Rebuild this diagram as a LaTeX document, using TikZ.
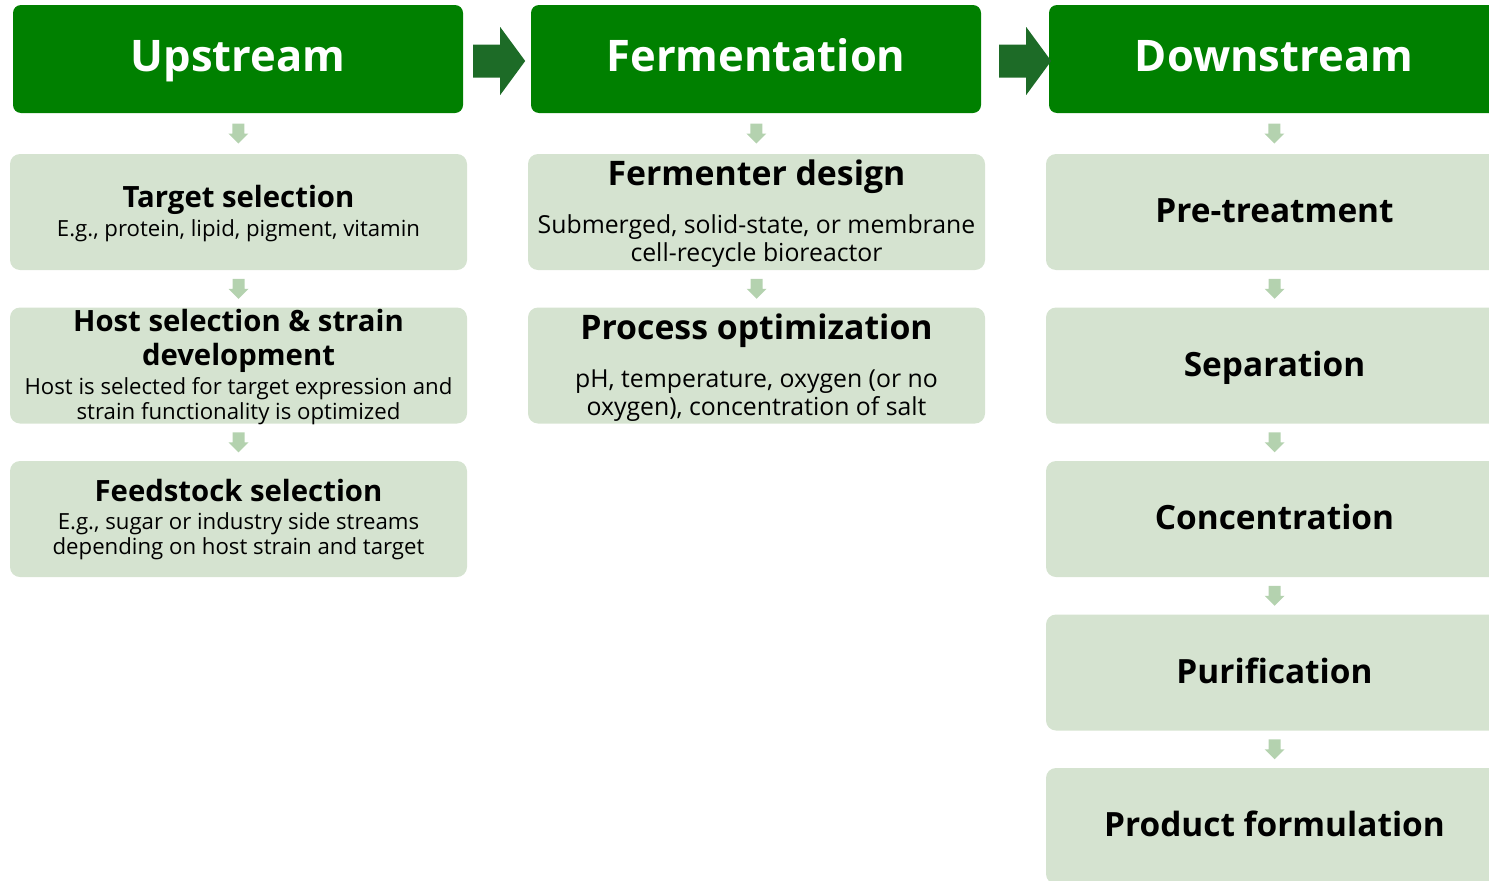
\documentclass[tikz,border=0pt]{standalone}
\usepackage{fontspec}
\setmainfont{Open Sans}
\usetikzlibrary{calc}
\definecolor{hgreen}{HTML}{008000}
\definecolor{agreen}{HTML}{1D6B27}
\definecolor{bgreen}{HTML}{D5E3D0}
\definecolor{sgreen}{HTML}{B4D2AF}
\tikzset{
  hbox/.style={fill=hgreen, rounded corners=8pt, minimum width=450pt, minimum height=108pt, inner sep=0pt},
  cbox/.style={fill=bgreen, rounded corners=10pt, minimum width=457pt, minimum height=116pt, inner sep=0pt},
  htext/.style={text=white, font=\fontsize{43.5}{48}\selectfont\bfseries, anchor=base, inner sep=0pt},
  ttext/.style={text=black, font=\fontsize{29.3}{34}\selectfont\bfseries, anchor=base, inner sep=0pt, align=center},
  tbig/.style={text=black, font=\fontsize{33.8}{36}\selectfont\bfseries, anchor=base, inner sep=0pt, align=center},
  dtext/.style={text=black, font=\fontsize{33.4}{36}\selectfont\bfseries, anchor=base, inner sep=0pt},
  stext/.style={text=black, font=\fontsize{22.2}{26}\selectfont, anchor=base, inner sep=0pt, align=center},
  sbig/.style={text=black, font=\fontsize{24.8}{28}\selectfont, anchor=base, inner sep=0pt, align=center},
  sarrow/.style={fill=sgreen},
  harrow/.style={fill=agreen},
}
\newcommand\downarr[2]{%
  \fill[sarrow] ($(#1.south)!0.5!(#2.north)$) ++(-6,-10) -- ++(12,0) -- ++(0,10) -- ++(4,0) -- ++(-10,10) -- ++(-10,-10) -- ++(4,0) -- cycle;}
\newcommand\headarr[3]{%
  \fill[harrow] ($(#1.east)+(#3,2)$) ++(0,-16.5) -- ++(27,0) -- ++(0,-17.5) -- ++(25,34) -- ++(-25,34) -- ++(0,-17.5) -- ++(-27,0) -- cycle;}
\begin{document}
\begin{tikzpicture}[x=1pt,y=-1pt]
\useasboundingbox (0,0) rectangle (1489,881);
\clip (0,0) rectangle (1489,881);
% headers
\node[hbox] (h1) at (238,59) {};
\node[hbox] (h2) at (756,59) {};
\node[hbox] (h3) at (1274,59) {};
\node[htext] (h1t) at ($(h1.north)+(0,67)$) {Upstream};
\node[htext] (h2t) at ($(h2.north)+(0,67)$) {Fermentation};
\node[htext] (h3t) at ($(h3.north)+(0,67)$) {Downstream};
\headarr{h1}{h2}{10}
\headarr{h2}{h3}{18}
% column 1
\node[cbox] (u1) at (238.5,212) {};
\node[cbox] (u2) at (238.5,365.5) {};
\node[cbox] (u3) at (238.5,519) {};
\node[ttext] (u1t) at ($(u1.north)+(0,54)$) {Target selection};
\node[stext] (u1s) at ($(u1.north)+(0,83)$) {E.g., protein, lipid, pigment, vitamin};
\node[ttext] (u2t) at ($(u2.north)+(0,24.5)$) {Host selection \& strain};
\node[ttext] (u2u) at ($(u2.north)+(0,58.5)$) {development};
\node[stext] (u2s) at ($(u2.north)+(0,87.5)$) {Host is selected for target expression and};
\node[stext] (u2v) at ($(u2.north)+(0,112.5)$) {strain functionality is optimized};
\node[ttext] (u3t) at ($(u3.north)+(0,41)$) {Feedstock selection};
\node[stext] (u3s) at ($(u3.north)+(0,69)$) {E.g., sugar or industry side streams};
\node[stext] (u3v) at ($(u3.north)+(0,94)$) {depending on host strain and target};
% column 2
\node[cbox] (f1) at (756.5,212) {};
\node[cbox] (f2) at (756.5,365.5) {};
\node[tbig] (f1t) at ($(f1.north)+(0,32)$) {Fermenter design};
\node[sbig] (f1s) at ($(f1.north)+(0,80)$) {Submerged, solid-state, or membrane};
\node[sbig] (f1v) at ($(f1.north)+(0,108)$) {cell-recycle bioreactor};
\node[tbig] (f2t) at ($(f2.north)+(0,32.5)$) {Process optimization};
\node[sbig] (f2s) at ($(f2.north)+(0,80.5)$) {pH, temperature, oxygen (or no};
\node[sbig] (f2v) at ($(f2.north)+(0,108.5)$) {oxygen), concentration of salt};
% column 3
\node[cbox] (d1) at (1274.5,212) {};
\node[cbox] (d2) at (1274.5,365.5) {};
\node[cbox] (d3) at (1274.5,519) {};
\node[cbox] (d4) at (1274.5,672.5) {};
\node[cbox] (d5) at (1274.5,826) {};
\node[dtext] (d1t) at ($(d1.north)+(0,69)$) {Pre-treatment};
\node[dtext] (d2t) at ($(d2.north)+(0,69)$) {Separation};
\node[dtext] (d3t) at ($(d3.north)+(0,69)$) {Concentration};
\node[dtext] (d4t) at ($(d4.north)+(0,69)$) {Purification};
\node[dtext] (d5t) at ($(d5.north)+(0,69)$) {Product formulation};
% small arrows
\downarr{h1}{u1}
\downarr{u1}{u2}
\downarr{u2}{u3}
\downarr{h2}{f1}
\downarr{f1}{f2}
\downarr{h3}{d1}
\downarr{d1}{d2}
\downarr{d2}{d3}
\downarr{d3}{d4}
\downarr{d4}{d5}
\end{tikzpicture}
\end{document}
